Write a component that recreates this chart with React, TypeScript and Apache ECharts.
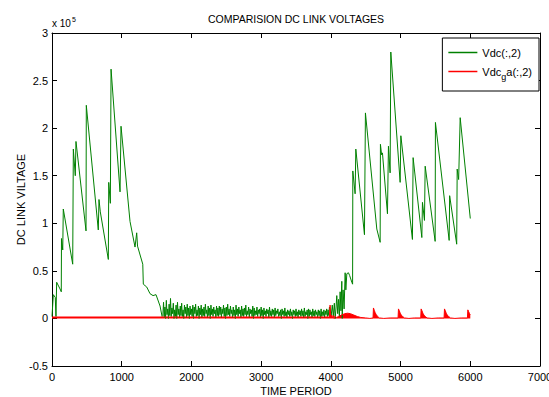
import React, { useEffect, useRef } from "react";
import * as echarts from "echarts";

const FONT = "'Liberation Sans', Arial, Helvetica, sans-serif";

const titleText = "COMPARISION DC LINK VOLTAGES";
const xName = "TIME PERIOD";
const yName = "DC LINK VILTAGE";
const greenName = "Vdc(:,2)";
const redName = "Vdc_ga(:,2)";

const xMin = 0;
const xMax = 7000;
const xStep = 1000;
const yMin = -0.5;
const yMax = 3;
const yStep = 0.5;

// Vdc (units of 1e5) – first active segment
const greenT1 = [0, 19, 47, 57, 67, 115, 133, 136, 154, 162, 297, 306, 334, 344, 488, 492, 664, 674, 693, 808, 814, 837, 847, 976, 990, 1119, 1191, 1215, 1227, 1302, 1310, 1359, 1406, 1449, 1492, 1550, 1579];
const greenV1 = [0.02, 0.25, 0.22, 0.02, 0.38, 0.31, 0.28, 0.84, 0.72, 1.15, 0.57, 1.78, 1.50, 1.86, 0.92, 2.24, 0.93, 1.25, 1.12, 0.62, 1.43, 1.21, 2.62, 1.33, 2.02, 1.02, 0.75, 0.90, 0.76, 0.57, 0.36, 0.33, 0.26, 0.24, 0.25, 0.13, 0.02];

// Vdc – low noisy segment, sampled every noiseStep starting at noiseStart
const noiseStart = 1590;
const noiseStep = 10;
const noiseV = [
  0.03, 0.17, 0.01, 0.12, 0.00, 0.19, 0.04, 0.10, 0.00, 0.15,
  0.03, 0.21, 0.02, 0.11, 0.05, 0.16, 0.00, 0.09, 0.02, 0.14,
  0.00, 0.17, 0.04, 0.10, 0.01, 0.13, 0.03, 0.16, 0.02, 0.09,
  0.00, 0.14, 0.05, 0.12, 0.01, 0.15, 0.03, 0.11, 0.00, 0.13,
  0.04, 0.10, 0.02, 0.14, 0.00, 0.12, 0.05, 0.15, 0.02, 0.09,
  0.03, 0.13, 0.00, 0.11, 0.04, 0.14, 0.01, 0.10, 0.03, 0.12,
  0.02, 0.15, 0.05, 0.09, 0.01, 0.13, 0.03, 0.11, 0.00, 0.14,
  0.04, 0.10, 0.02, 0.12, 0.05, 0.09, 0.01, 0.13, 0.03, 0.11,
  0.02, 0.13, 0.04, 0.12, 0.01, 0.10, 0.05, 0.14, 0.02, 0.11,
  0.00, 0.12, 0.03, 0.15, 0.04, 0.10, 0.02, 0.13, 0.05, 0.09,
  0.01, 0.12, 0.03, 0.09, 0.00, 0.14, 0.04, 0.10, 0.02, 0.12,
  0.05, 0.09, 0.01, 0.13, 0.03, 0.10, 0.02, 0.11, 0.04, 0.14,
  0.02, 0.08, 0.04, 0.12, 0.01, 0.10, 0.05, 0.09, 0.02, 0.13,
  0.00, 0.11, 0.03, 0.08, 0.04, 0.12, 0.02, 0.09, 0.05, 0.10,
  0.01, 0.12, 0.03, 0.09, 0.00, 0.11, 0.04, 0.08, 0.02, 0.10,
  0.05, 0.09, 0.01, 0.12, 0.03, 0.08, 0.02, 0.10, 0.04, 0.09,
  0.01, 0.11, 0.03, 0.08, 0.05, 0.10, 0.02, 0.07, 0.03, 0.09,
  0.00, 0.10, 0.04, 0.08, 0.02, 0.11, 0.03, 0.07, 0.01, 0.09,
  0.04, 0.08, 0.02, 0.10, 0.03, 0.07, 0.00, 0.09, 0.04, 0.08,
  0.02, 0.10, 0.03, 0.07, 0.01, 0.09, 0.04, 0.08, 0.02, 0.10,
  0.03, 0.08, 0.01, 0.11, 0.02, 0.07, 0.04, 0.09, 0.00, 0.10,
  0.02, 0.09, 0.04, 0.07, 0.01, 0.10, 0.03, 0.08, 0.02, 0.09,
  0.04, 0.07, 0.01, 0.09, 0.03, 0.08, 0.00, 0.10, 0.02, 0.07,
  0.03, 0.09, 0.01, 0.08, 0.04, 0.10, 0.02, 0.09, 0.03, 0.12,
];

// Vdc – rising transition
const greenT3 = [3990, 4005, 4020, 4035, 4050, 4062, 4075, 4085, 4098, 4110, 4122, 4133, 4145, 4157, 4163, 4175, 4190, 4205, 4215, 4229, 4252, 4270, 4301, 4312];
const greenV3 = [0.10, 0.03, 0.14, 0.02, 0.16, 0.00, 0.12, 0.24, 0.05, 0.20, 0.02, 0.28, 0.08, 0.39, 0.00, 0.30, 0.10, 0.48, 0.30, 0.47, 0.48, 0.45, 0.38, 0.36];

// Vdc – second active segment
const greenT4 = [4315, 4348, 4358, 4482, 4496, 4659, 4707, 4711, 4728, 4740, 4812, 4826, 4850, 4860, 4994, 5004, 5170, 5180, 5305, 5314, 5343, 5353, 5496, 5500, 5697, 5704, 5805, 5812, 5833, 5855, 6000];
const greenV4 = [1.55, 1.31, 1.78, 0.88, 2.16, 0.94, 0.80, 1.83, 1.72, 1.74, 1.10, 1.81, 1.53, 2.80, 1.43, 1.92, 0.83, 1.69, 0.85, 1.22, 1.03, 1.60, 0.81, 2.06, 0.82, 1.29, 0.78, 1.57, 1.46, 2.11, 1.05];

// Vdc_ga
const redT = [0, 3980, 3989, 3996, 4010, 4022, 4035, 4048, 4062, 4080, 4110, 4150, 4200, 4240, 4280, 4330, 4380, 4430, 4500, 4560, 4605, 4611, 4623, 4636, 4651, 4671, 4696, 4760, 4850, 4964, 4970, 4982, 4995, 5010, 5030, 5055, 5120, 5200, 5289, 5295, 5307, 5320, 5335, 5355, 5380, 5450, 5540, 5624, 5630, 5642, 5655, 5670, 5690, 5715, 5780, 5870, 5959, 5965, 5977, 5990, 6000];
const redV = [0.015, 0.015, 0.14, 0.015, 0.035, 0.005, 0.03, 0.0, 0.025, 0.01, 0.02, 0.035, 0.05, 0.055, 0.05, 0.035, 0.02, 0.01, 0.005, 0.0, 0.005, 0.11, 0.085, 0.06, 0.04, 0.02, 0.005, 0.0, 0.005, 0.005, 0.10, 0.08, 0.055, 0.035, 0.02, 0.005, 0.0, 0.005, 0.005, 0.10, 0.08, 0.055, 0.035, 0.02, 0.005, 0.0, 0.005, 0.005, 0.10, 0.08, 0.055, 0.035, 0.02, 0.005, 0.0, 0.005, 0.005, 0.09, 0.07, 0.05, 0.04];

function pairs(t: number[], v: number[]) {
  return t.map((x, i) => [x, v[i]]);
}

export default function App() {
  const ref = useRef<HTMLDivElement>(null);
  useEffect(() => {
    if (!ref.current) return;
    const chart = echarts.init(ref.current, undefined, { renderer: "svg" });
    const greenData = [
      ...pairs(greenT1, greenV1),
      ...noiseV.map((v, i) => [noiseStart + i * noiseStep, v]),
      ...pairs(greenT3, greenV3),
      ...pairs(greenT4, greenV4),
    ];
    const redData = pairs(redT, redV);
    const axisCommon = {
      axisLine: { show: true, onZero: false, lineStyle: { color: "#000", width: 1 } },
      axisTick: { show: true, inside: true, length: 5, lineStyle: { color: "#000", width: 1 } },
      splitLine: { show: false },
    };
    const plain = (v: number) => String(v);
    const option: any = {
      animation: false,
      backgroundColor: "#fff",
      textStyle: { fontFamily: FONT },
      grid: { left: 52, right: 9, top: 33, bottom: 31, containLabel: false, outerBoundsMode: "none" },
      xAxis: [
        {
          type: "value", min: xMin, max: xMax, interval: xStep, position: "bottom",
          ...axisCommon,
          axisLabel: { color: "#000", fontSize: 11, margin: 5, fontFamily: FONT, formatter: plain },
          name: xName, nameLocation: "middle", nameGap: 19, nameMoveOverlap: false,
          nameTextStyle: { color: "#000", fontSize: 11, fontFamily: FONT },
        },
        {
          type: "value", min: xMin, max: xMax, interval: xStep, position: "top",
          ...axisCommon, axisLabel: { show: false },
        },
      ],
      yAxis: [
        {
          type: "value", min: yMin, max: yMax, interval: yStep, position: "left",
          ...axisCommon,
          axisLabel: { color: "#000", fontSize: 11, margin: 4, fontFamily: FONT, formatter: plain },
          name: yName, nameLocation: "middle", nameGap: 26, nameRotate: 90, nameMoveOverlap: false,
          nameTextStyle: { color: "#000", fontSize: 11, fontFamily: FONT },
        },
        {
          type: "value", min: yMin, max: yMax, interval: yStep, position: "right",
          ...axisCommon, axisLabel: { show: false },
        },
      ],
      legend: {
        orient: "vertical",
        right: 10,
        top: 38,
        padding: [9, 7, 10, 6],
        itemGap: 8,
        itemWidth: 29,
        itemHeight: 1.5,
        icon: "rect",
        backgroundColor: "#fff",
        borderColor: "#000",
        borderWidth: 1,
        borderRadius: 0,
        data: [greenName, redName],
        formatter: (name: string) => (name === redName ? "Vdc{sub|g}a(:,2)" : name),
        textStyle: {
          color: "#000",
          fontSize: 11,
          fontFamily: FONT,
          rich: {
            sub: { fontSize: 9, color: "#000", fontFamily: FONT, padding: [10, 0, 0, 0] },
          },
        },
      },
      graphic: [
        {
          type: "text", x: 296, y: 19,
          style: { text: titleText, fill: "#000", font: `10.5px ${FONT}`, textAlign: "center", textVerticalAlign: "middle" },
        },
        {
          type: "text", x: 52, y: 23,
          style: {
            text: "x 10{sup|5}", fill: "#000", font: `10px ${FONT}`, textVerticalAlign: "middle",
            rich: { sup: { fontSize: 7, padding: [0, 0, 8, 1], fill: "#000" } },
          },
        },
      ],
      series: [
        {
          name: greenName, type: "line", xAxisIndex: 0, yAxisIndex: 0,
          data: greenData, symbol: "none", showSymbol: false,
          lineStyle: { color: "#008000", width: 1 }, itemStyle: { color: "#008000" },
        },
        {
          name: redName, type: "line", xAxisIndex: 0, yAxisIndex: 0,
          data: redData, symbol: "none", showSymbol: false,
          lineStyle: { color: "#ff0000", width: 1 }, itemStyle: { color: "#ff0000" },
          areaStyle: { color: "#ff0000", opacity: 1 },
        },
      ],
    };
    chart.setOption(option);
    return () => chart.dispose();
  }, []);
  return (
    <div
      ref={ref}
      style={{ position: "absolute", left: 0, top: 0, width: 549, height: 397, background: "#fff" }}
    />
  );
}
